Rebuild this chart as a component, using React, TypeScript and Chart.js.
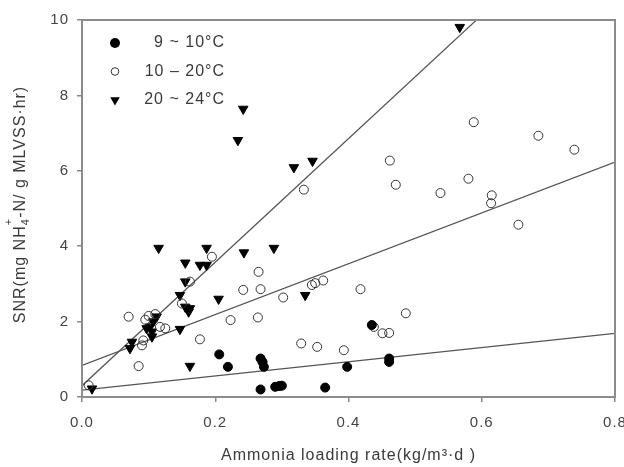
import { useEffect, useRef } from "react";
import { Chart, registerables } from "chart.js";

Chart.register(...registerables);

const FONT = "'Liberation Sans', Arial, Helvetica, sans-serif";

const xTicks = [0, 0.2, 0.4, 0.6, 0.8];
const yTicks = [0, 2, 4, 6, 8, 10];
const legendLabels = ["9 ~ 10°C", "10 – 20°C", "20 ~ 24°C"];
const xTitle = "Ammonia loading rate(kg/m³·d )";

// 9 ~ 10 °C (filled circles)
const coldPoints: [number, number][] = [
  [0.206, 1.13], [0.219, 0.8], [0.268, 1.02], [0.271, 0.93], [0.273, 0.8],
  [0.268, 0.2], [0.29, 0.27], [0.296, 0.29], [0.3, 0.3], [0.365, 0.25],
  [0.398, 0.8], [0.435, 1.91], [0.461, 1.02], [0.461, 0.93],
];

// 10 ~ 20 °C (open circles)
const mildPoints: [number, number][] = [
  [0.01, 0.31], [0.07, 2.13], [0.085, 0.82], [0.09, 1.37], [0.092, 1.5],
  [0.095, 2.05], [0.1, 2.15], [0.11, 2.2], [0.117, 1.86], [0.125, 1.82],
  [0.15, 2.48], [0.162, 3.06], [0.177, 1.53], [0.195, 3.72], [0.223, 2.04],
  [0.242, 2.84], [0.264, 2.11], [0.265, 3.32], [0.268, 2.86], [0.302, 2.64],
  [0.329, 1.42], [0.333, 5.5], [0.345, 2.97], [0.35, 3.02], [0.362, 3.09],
  [0.353, 1.33], [0.393, 1.24], [0.418, 2.86], [0.438, 1.86], [0.451, 1.69],
  [0.461, 1.7], [0.462, 6.27], [0.471, 5.63], [0.486, 2.22], [0.538, 5.41],
  [0.58, 5.79], [0.588, 7.29], [0.614, 5.14], [0.615, 5.35], [0.655, 4.57],
  [0.685, 6.93], [0.739, 6.56],
];

// 20 ~ 24 °C (down triangles)
const warmPoints: [number, number][] = [
  [0.015, 0.22], [0.072, 1.29], [0.075, 1.46], [0.097, 1.82], [0.102, 1.86],
  [0.105, 1.6], [0.105, 1.73], [0.107, 2.0], [0.112, 2.13], [0.115, 3.95],
  [0.147, 1.8], [0.147, 2.7], [0.155, 3.06], [0.155, 3.56], [0.155, 2.39],
  [0.16, 2.26], [0.162, 2.35], [0.162, 0.82], [0.177, 3.5], [0.187, 3.5],
  [0.187, 3.95], [0.205, 2.6], [0.234, 6.81], [0.242, 7.64], [0.243, 3.83],
  [0.288, 3.95], [0.318, 6.09], [0.335, 2.7], [0.346, 6.26], [0.567, 9.81],
];

// regression lines (end points)
const coldFit: [number, number][] = [[0, 0.18], [0.8, 1.69]];
const mildFit: [number, number][] = [[0, 0.84], [0.8, 6.23]];
const warmFit: [number, number][] = [[0, 0.3], [0.592, 10]];

const toPts = (a: [number, number][]) => a.map(([x, y]) => ({ x, y }));

export default function App() {
  const ref = useRef<HTMLCanvasElement>(null);

  useEffect(() => {
    document.body.style.margin = "0";
    const canvas = ref.current!;

    const spacing = {
      id: "spacing",
      beforeLayout(c: any) { (c.ctx as any).letterSpacing = "1px"; },
      beforeDraw(c: any) { (c.ctx as any).letterSpacing = "1px"; },
    };

    const deco = {
      id: "deco",
      afterDraw(c: any) {
        const ctx = c.ctx as CanvasRenderingContext2D & { letterSpacing: string };
        const { left, right, top, bottom } = c.chartArea;
        ctx.save();
        // frame
        ctx.strokeStyle = "#8c8c8c";
        ctx.lineWidth = 2;
        ctx.strokeRect(left, top, right - left, bottom - top);

        // legend
        const mx = left + 33;
        const rows = [top + 23, top + 51.5, top + 80];
        const tx = left + 143;
        ctx.letterSpacing = "1px";
        ctx.font = `16px ${FONT}`;
        ctx.fillStyle = "#3a3a3a";
        ctx.textAlign = "right";
        ctx.textBaseline = "middle";
        legendLabels.forEach((lab, i) => {
          const y = rows[i];
          ctx.beginPath();
          if (i === 0) {
            ctx.arc(mx, y, 5, 0, Math.PI * 2);
            ctx.fillStyle = "#000";
            ctx.fill();
          } else if (i === 1) {
            ctx.arc(mx, y, 3.8, 0, Math.PI * 2);
            ctx.strokeStyle = "#333";
            ctx.lineWidth = 1;
            ctx.stroke();
          } else {
            const r = 5.5;
            ctx.moveTo(mx - r * 0.866, y - r * 0.5);
            ctx.lineTo(mx + r * 0.866, y - r * 0.5);
            ctx.lineTo(mx, y + r);
            ctx.closePath();
            ctx.fillStyle = "#000";
            ctx.fill();
          }
          ctx.fillStyle = "#3a3a3a";
          ctx.fillText(lab, tx, y);
        });

        // x title
        ctx.textAlign = "center";
        ctx.fillText(xTitle, (left + right) / 2, 456);

        // y title with NH4+ sub/superscripts
        ctx.translate(21, (top + bottom) / 2 - 4);
        ctx.rotate(-Math.PI / 2);
        ctx.textAlign = "left";
        const main = `16px ${FONT}`;
        const small = `11px ${FONT}`;
        const p1 = "SNR(mg NH";
        const p2 = "-N/ g MLVSS·hr)";
        ctx.font = main;
        const w1 = ctx.measureText(p1).width;
        const w3 = ctx.measureText(p2).width;
        ctx.font = small;
        const wsub = Math.max(ctx.measureText("4").width, ctx.measureText("+").width);
        const total = w1 + wsub + w3;
        let x = -total / 2;
        ctx.font = main;
        ctx.fillText(p1, x, 0);
        x += w1;
        ctx.font = small;
        ctx.fillText("4", x, 5);
        ctx.fillText("+", x, -12);
        x += wsub;
        ctx.font = main;
        ctx.fillText(p2, x, 0);
        ctx.restore();
      },
    };

    const chart = new Chart(canvas, {
      type: "scatter",
      data: {
        datasets: [
          {
            label: legendLabels[0],
            data: toPts(coldPoints),
            pointStyle: "circle",
            pointRadius: 4.5,
            backgroundColor: "#000",
            borderColor: "#000",
            borderWidth: 1,
          },
          {
            label: legendLabels[1],
            data: toPts(mildPoints),
            pointStyle: "circle",
            pointRadius: 4.5,
            backgroundColor: "rgba(0,0,0,0)",
            borderColor: "#333",
            borderWidth: 1,
          },
          {
            label: legendLabels[2],
            data: toPts(warmPoints),
            pointStyle: "triangle",
            rotation: 180,
            pointRadius: 5.5,
            backgroundColor: "#000",
            borderColor: "#000",
            borderWidth: 1,
          },
          {
            label: "fit cold",
            data: toPts(coldFit),
            showLine: true,
            pointRadius: 0,
            borderColor: "#555",
            borderWidth: 1.2,
          },
          {
            label: "fit mild",
            data: toPts(mildFit),
            showLine: true,
            pointRadius: 0,
            borderColor: "#555",
            borderWidth: 1.2,
          },
          {
            label: "fit warm",
            data: toPts(warmFit),
            showLine: true,
            pointRadius: 0,
            borderColor: "#555",
            borderWidth: 1.2,
          },
        ],
      } as any,
      options: {
        responsive: false,
        animation: false,
        devicePixelRatio: 1,
        layout: { padding: { top: 20, right: 9, left: 0, bottom: 0 } },
        plugins: { legend: { display: false }, tooltip: { enabled: false } },
        scales: {
          x: {
            type: "linear",
            min: 0,
            max: 0.8,
            afterBuildTicks: (s: any) => { s.ticks = xTicks.map((v) => ({ value: v })); },
            afterFit: (s: any) => {
              s.height = 70;
              s.paddingLeft = 0; s.paddingRight = 0;
            },
            ticks: {
              callback: (v: any) => Number(v).toFixed(1),
              font: { family: FONT, size: 15 },
              color: "#444",
              padding: 12,
              maxRotation: 0,
              autoSkip: false,
            },
            grid: { drawOnChartArea: false, tickLength: 5, color: "#888", lineWidth: 1.5 },
            border: { color: "#8c8c8c", width: 2 },
          },
          y: {
            type: "linear",
            min: 0,
            max: 10,
            afterBuildTicks: (s: any) => { s.ticks = yTicks.map((v) => ({ value: v })); },
            afterFit: (s: any) => {
              s.width = 82;
              s.paddingTop = 0; s.paddingBottom = 0;
            },
            ticks: {
              callback: (v: any) => String(v),
              font: { family: FONT, size: 15 },
              color: "#444",
              padding: 8,
              autoSkip: false,
            },
            grid: { drawOnChartArea: false, tickLength: 5, color: "#888", lineWidth: 1.5 },
            border: { color: "#8c8c8c", width: 2 },
          },
        },
      } as any,
      plugins: [spacing, deco] as any,
    });

    return () => chart.destroy();
  }, []);

  return (
    <canvas
      ref={ref}
      width={624}
      height={467}
      style={{ display: "block", width: 624, height: 467 }}
    />
  );
}
